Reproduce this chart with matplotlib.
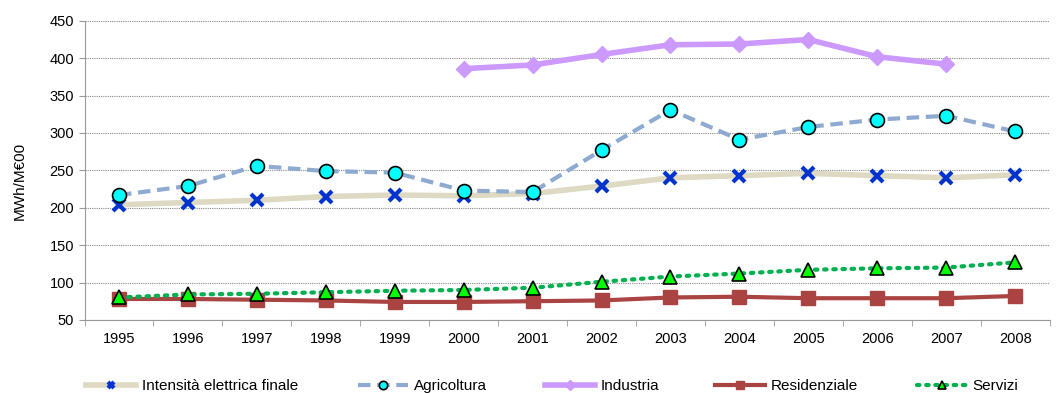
import matplotlib.pyplot as plt
import numpy as np

plt.rcParams['font.family'] = ['Liberation Sans', 'DejaVu Sans']

years = [str(y) for y in range(1995, 2009)]
intensita = [204, 207, 210, 215, 217, 216, 219, 229, 240, 243, 246, 243, 240, 244]
agricoltura = [217, 229, 256, 249, 247, 223, 221, 277, 331, 291, 308, 318, 323, 302]
industria = [np.nan] * 5 + [386, 391, 405, 418, 419, 425, 402, 392] + [np.nan]
residenziale = [78, 78, 77, 76, 74, 74, 75, 76, 80, 81, 79, 79, 79, 82]
servizi = [80, 84, 85, 87, 89, 90, 93, 101, 108, 112, 117, 119, 120, 127]

W, H = 1057, 393
fig = plt.figure(figsize=(W / 100, H / 100), dpi=100)
ax = fig.add_axes([0.08, 0.186, 0.913, 0.761])
x = np.arange(len(years))

lines = []
lines += ax.plot(x, intensita, color='#ddd9c3', lw=4, marker='x', ms=8, mew=3,
                 mec='#0033cc', label='Intensità elettrica finale', zorder=3)
lines += ax.plot(x, agricoltura, color='#8eaad0', lw=3, ls=(0, (3, 1.6)), marker='o', ms=10,
                 mfc='#00ffff', mec='black', mew=1.2, label='Agricoltura', zorder=4)
lines += ax.plot(x, industria, color='#cc99ff', lw=4, marker='D', ms=8,
                 mfc='#cc99ff', mec='#cc99ff', label='Industria', zorder=3)
lines += ax.plot(x, residenziale, color='#a94442', lw=3, marker='s', ms=10,
                 mfc='#a94442', mec='#a94442', label='Residenziale', zorder=3)
lines += ax.plot(x, servizi, color='#00b050', lw=3, ls=(0, (0.6, 1.6)), dash_capstyle='round',
                 marker='^', ms=10, mfc='#00ff00', mec='black', mew=1.2, label='Servizi', zorder=4)

ax.set_xlim(-0.5, len(years) - 0.5)
ax.set_ylim(50, 450)
ax.set_yticks(range(50, 451, 50))
ax.set_xticks(x)
ax.set_xticklabels(years)
ax.set_xticks(np.arange(-0.5, len(years), 1), minor=True)
ax.tick_params(axis='x', which='major', length=0, pad=9, labelsize=10.5)
ax.tick_params(axis='x', which='minor', length=4, color='#999999')
ax.tick_params(axis='y', length=4, color='#999999', labelsize=10.5)
ax.grid(axis='y', color='#888888', ls=(0, (1, 1)), lw=0.8)
ax.set_axisbelow(True)
for s in ['top', 'right']:
    ax.spines[s].set_visible(False)
for s in ['left', 'bottom']:
    ax.spines[s].set_color('#999999')
fig.text(20 / W, 1 - 181 / H, 'MWh/M€00', rotation=90, fontsize=11,
         ha='center', va='center')

# legend entries spaced like the original (left edge of each handle in px)
starts = [86, 358, 545, 715, 917]
for ln, px in zip(lines, starts):
    fig.legend(handles=[ln], loc='center left', bbox_to_anchor=(px / W, 1 - 386 / H),
               frameon=False, fontsize=11, handlelength=3.3, handletextpad=0.35,
               borderpad=0, borderaxespad=0, markerscale=0.6)

fig.savefig('out.png', dpi=100)
